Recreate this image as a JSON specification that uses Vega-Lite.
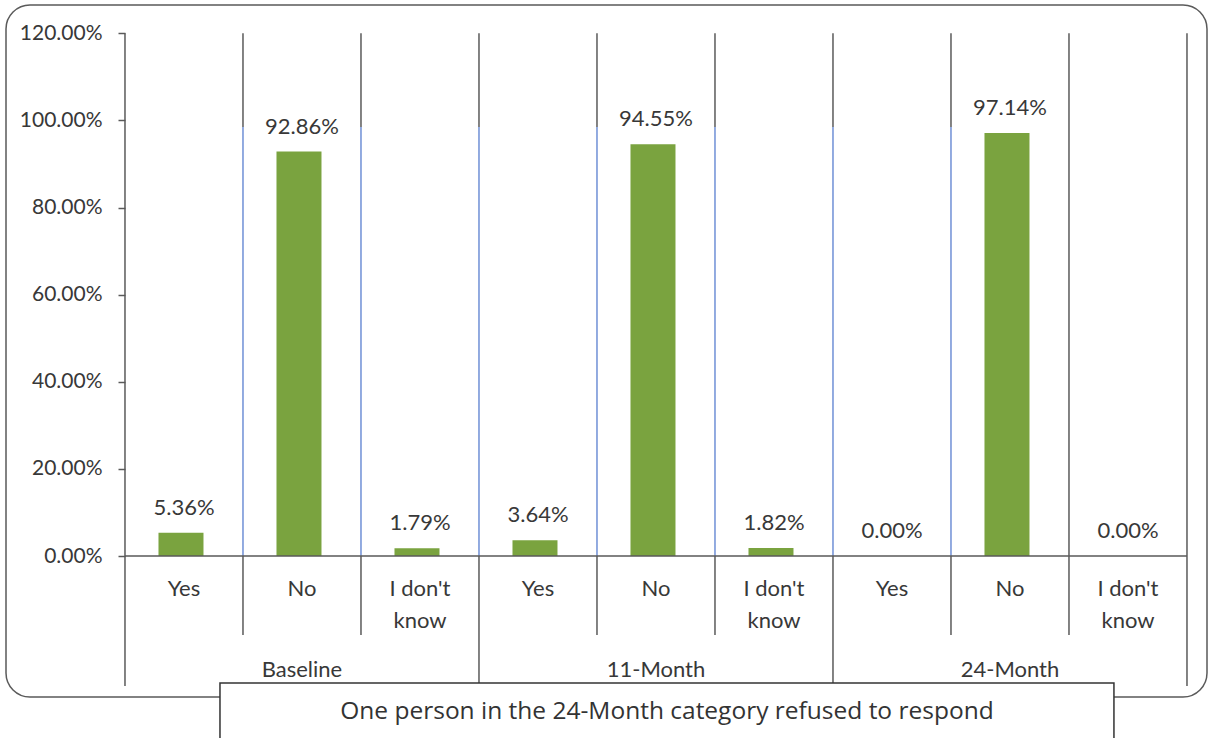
{
  "$schema": "https://vega.github.io/schema/vega-lite/v6.json",
  "width": 1201,
  "height": 692,
  "autosize": {"type": "none"},
  "padding": {"left": 6, "top": 5, "right": 2, "bottom": 41},
  "background": "white",
  "config": {
    "view": {"stroke": "#5a5a5a", "strokeWidth": 1.5, "cornerRadius": 24},
    "font": "Lato",
    "text": {"font": "Lato", "color": "#383838", "fontSize": 22}
  },
  "data": {
    "values": [
      {"group": "Baseline", "answer": "Yes", "pct": 0.0536},
      {"group": "Baseline", "answer": "No", "pct": 0.9286},
      {"group": "Baseline", "answer": "I don't know", "pct": 0.0179},
      {"group": "11-Month", "answer": "Yes", "pct": 0.0364},
      {"group": "11-Month", "answer": "No", "pct": 0.9455},
      {"group": "11-Month", "answer": "I don't know", "pct": 0.0182},
      {"group": "24-Month", "answer": "Yes", "pct": 0.0},
      {"group": "24-Month", "answer": "No", "pct": 0.9714},
      {"group": "24-Month", "answer": "I don't know", "pct": 0.0}
    ]
  },
  "transform": [
    {"calculate": "datum.group + '|' + datum.answer", "as": "cell"},
    {"calculate": "datum.answer === \"I don't know\" ? [\"I don't\", \"know\"] : datum.answer", "as": "label"}
  ],
  "encoding": {
    "x": {
      "field": "cell",
      "type": "nominal",
      "scale": {
        "type": "band",
        "domain": ["Baseline|Yes", "Baseline|No", "Baseline|I don't know", "11-Month|Yes", "11-Month|No", "11-Month|I don't know", "24-Month|Yes", "24-Month|No", "24-Month|I don't know"],
        "paddingInner": 0,
        "paddingOuter": 0.589,
        "align": 0.856
      },
      "axis": null
    }
  },
  "layer": [
    {
      "mark": {"type": "bar", "width": 45, "color": "#7aa33f", "xOffset": -3},
      "encoding": {
        "y": {
          "field": "pct",
          "type": "quantitative",
          "scale": {"domain": [-0.3237, 1.265], "nice": false, "zero": false},
          "axis": {
            "title": null,
            "values": [0, 0.2, 0.4, 0.6, 0.8, 1.0, 1.2],
            "format": ".2%",
            "offset": -119,
            "domain": false,
            "grid": false,
            "tickSize": 7,
            "tickWidth": 1.5,
            "tickColor": "#5a5a5a",
            "labelPadding": 16,
            "labelFont": "Lato",
            "labelFontSize": 21,
            "labelColor": "#383838"
          }
        }
      }
    },
    {
      "mark": {"type": "text", "baseline": "alphabetic", "dy": -18},
      "encoding": {
        "y": {"field": "pct", "type": "quantitative"},
        "text": {"field": "pct", "type": "quantitative", "format": ".2%"}
      }
    },
    {
      "mark": {"type": "rule", "color": "#5a5a5a", "strokeWidth": 1.5},
      "encoding": {
        "x": {"field": "cell", "type": "nominal", "bandPosition": 0},
        "y": {"datum": 1.2},
        "y2": {"datum": 0.985}
      }
    },
    {
      "transform": [{"filter": "datum.cell !== 'Baseline|Yes' && datum.cell !== \"24-Month|I don't know\""}],
      "mark": {"type": "rule", "color": "#6f8fd6", "strokeWidth": 1.5},
      "encoding": {
        "x": {"field": "cell", "type": "nominal", "bandPosition": 0},
        "y": {"datum": 0.985},
        "y2": {"datum": 0}
      }
    },
    {
      "transform": [{"filter": "datum.cell === 'Baseline|Yes' || datum.cell === \"24-Month|I don't know\""}],
      "mark": {"type": "rule", "color": "#5a5a5a", "strokeWidth": 1.5},
      "encoding": {
        "x": {"field": "cell", "type": "nominal", "bandPosition": 0},
        "y": {"datum": 0.985},
        "y2": {"datum": 0}
      }
    },
    {
      "transform": [{"filter": "datum.answer === 'Yes'"}],
      "mark": {"type": "rule", "color": "#5a5a5a", "strokeWidth": 1.5},
      "encoding": {
        "x": {"field": "cell", "type": "nominal", "bandPosition": 0},
        "y": {"datum": 0},
        "y2": {"datum": -0.2984}
      }
    },
    {
      "transform": [{"filter": "datum.answer !== 'Yes'"}],
      "mark": {"type": "rule", "color": "#5a5a5a", "strokeWidth": 1.5},
      "encoding": {
        "x": {"field": "cell", "type": "nominal", "bandPosition": 0},
        "y": {"datum": 0},
        "y2": {"datum": -0.1814}
      }
    },
    {
      "data": {"values": [{"edge": "end"}]},
      "mark": {"type": "rule", "color": "#5a5a5a", "strokeWidth": 1.5},
      "encoding": {
        "x": {"datum": "24-Month|I don't know", "bandPosition": 1},
        "y": {"datum": 1.2},
        "y2": {"datum": -0.2984}
      }
    },
    {
      "mark": {"type": "rect", "fill": null, "stroke": "#5a5a5a", "strokeWidth": 1.5},
      "encoding": {
        "y": {"datum": 0},
        "y2": {"datum": 0}
      }
    },
    {
      "mark": {"type": "text", "baseline": "alphabetic", "lineHeight": 32},
      "encoding": {
        "y": {"datum": -0.0907},
        "text": {"field": "label"}
      }
    },
    {
      "transform": [{"filter": "datum.answer === 'No'"}],
      "mark": {"type": "text", "baseline": "alphabetic"},
      "encoding": {
        "y": {"datum": -0.2789},
        "text": {"field": "group"}
      }
    },
    {
      "data": {"values": [{"note": "One person in the 24-Month category refused to respond"}]},
      "mark": {"type": "rect", "fill": "white", "stroke": "#333333", "strokeWidth": 1.5},
      "encoding": {
        "x": {"datum": "Baseline|Yes", "bandPosition": 0.805},
        "x2": {"datum": "24-Month|I don't know", "bandPosition": 0.381},
        "y": {"datum": -0.2916},
        "y2": {"datum": -0.45}
      }
    },
    {
      "data": {"values": [{"note": "One person in the 24-Month category refused to respond"}]},
      "mark": {"type": "text", "baseline": "alphabetic", "font": "Open Sans", "fontSize": 24.5, "color": "#333333"},
      "encoding": {
        "x": {"datum": "11-Month|No", "bandPosition": 0.593},
        "y": {"datum": -0.3731},
        "text": {"field": "note"}
      }
    }
  ]
}
